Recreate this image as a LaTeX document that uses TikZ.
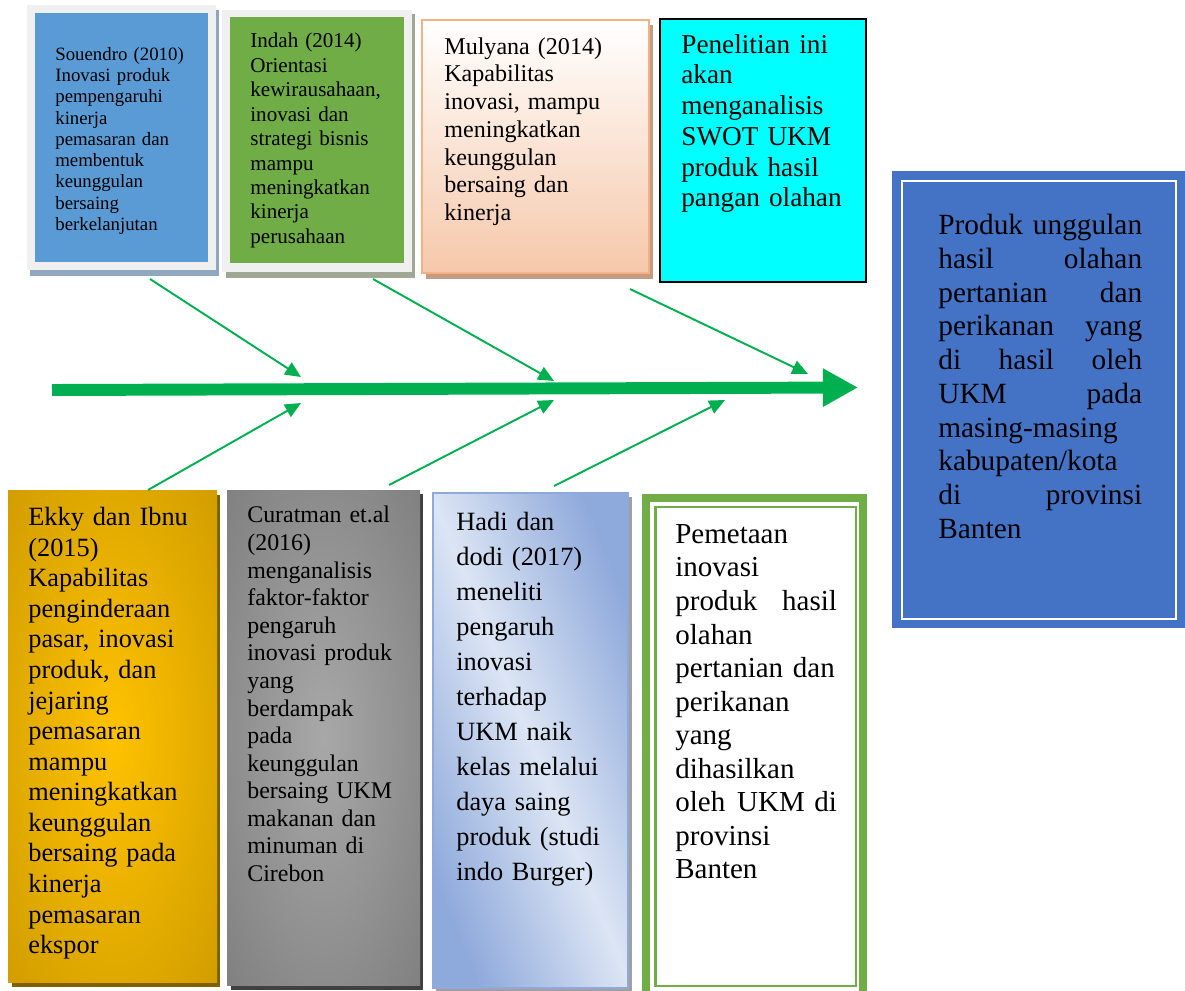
\documentclass[tikz,border=0pt]{standalone}
\usepackage{fontspec}
\setmainfont{Liberation Serif}
\usetikzlibrary{arrows.meta,positioning}
\definecolor{fishGreen}{RGB}{0,176,80}
\definecolor{frameGray}{RGB}{240,240,240}
\definecolor{souBlue}{RGB}{91,155,213}
\definecolor{souShadow}{RGB}{143,168,192}
\definecolor{indahGreen}{RGB}{112,173,71}
\definecolor{indahShadow}{RGB}{160,168,148}
\definecolor{mulPeach}{RGB}{246,200,170}
\definecolor{mulLine}{RGB}{244,177,131}
\definecolor{mulShadow}{RGB}{195,156,130}
\definecolor{swotCyan}{RGB}{0,255,255}
\definecolor{ukmBlue}{RGB}{68,114,196}
\definecolor{goldLight}{RGB}{255,194,0}
\definecolor{goldDark}{RGB}{191,143,0}
\definecolor{goldShadow}{RGB}{127,96,0}
\definecolor{grayLight}{RGB}{168,168,168}
\definecolor{grayDark}{RGB}{112,112,112}
\definecolor{grayShadow}{RGB}{64,64,64}
\definecolor{hadiBlue}{RGB}{142,169,219}
\definecolor{hadiLight}{RGB}{220,229,244}
\definecolor{hadiShadow}{RGB}{160,160,160}
\pgfdeclareradialshading{goldglow}{\pgfpoint{0bp}{0bp}}{color(0bp)=(goldLight); color(50bp)=(goldDark); color(75bp)=(goldDark)}
\pgfdeclareradialshading{grayglow}{\pgfpoint{0bp}{0bp}}{color(0bp)=(grayLight); color(50bp)=(grayDark); color(75bp)=(grayDark)}
\newcommand{\fsz}[2]{\fontsize{#1}{#2}\selectfont}

\begin{document}
\begin{tikzpicture}[x=0.02cm,y=-0.02cm,
    txt/.style={inner sep=0pt,anchor=north west,align=left},
    bone/.style={draw=fishGreen,line width=1.1pt,-{Triangle[length=9pt,width=8pt]}},
    spine/.style={draw=fishGreen,line width=6.8pt,-{Triangle[length=20pt,width=20.5pt]}}]
  \useasboundingbox (0,0) rectangle (1185,990);
  % top row
  \fill[souShadow] (30,10) rectangle (219,276);
  \fill[frameGray] (27,5) rectangle (216,270);
  \fill[souBlue] (35,13) rectangle (208,262);
  \node[txt,text width=90pt,font={\fsz{10.7}{12.1}}] (souendro) at (55,47)
    {Souendro (2010)\\Inovasi produk\\pempengaruhi\\kinerja\\pemasaran dan\\membentuk\\keunggulan\\bersaing\\berkelanjutan};
  \fill[indahShadow] (226,14) rectangle (415,278);
  \fill[frameGray] (222,10) rectangle (412,272);
  \fill[indahGreen] (230,17) rectangle (404,263);
  \node[txt,text width=100pt,font={\fsz{12}{13.9}}] (indah) at (250,33)
    {Indah (2014)\\Orientasi\\kewirausahaan,\\inovasi dan\\strategi bisnis\\mampu\\meningkatkan\\kinerja\\perusahaan};
  \fill[mulShadow] (426,25) rectangle (653,279);
  \shadedraw[top color=white,bottom color=mulPeach,draw=mulLine,line width=1.2pt] (422,20) rectangle (649,273);
  \node[txt,text width=110pt,font={\fsz{13.7}{15.8}}] (mulyana) at (444,37)
    {Mulyana (2014)\\Kapabilitas\\inovasi, mampu\\meningkatkan\\keunggulan\\bersaing dan\\kinerja};
  \filldraw[fill=swotCyan,draw=black,line width=1.2pt] (660,19) rectangle (866,282);
  \node[txt,text width=110pt,font={\fsz{15.5}{17.5}}] (penelitian) at (681,34)
    {Penelitian ini\\akan\\menganalisis\\SWOT UKM\\produk hasil\\pangan olahan};
  % result box
  \fill[ukmBlue] (892,171) rectangle (1185,628);
  \draw[white,line width=1.3pt] (902,181) rectangle (1176,619);
  \node[txt,text width=116pt,font={\fsz{16.7}{19.2}}] (produk) at (938,214)
    {Produk\hfill unggulan\\hasil\hfill olahan\\pertanian\hfill dan\\perikanan\hfill yang\\di\hfill hasil\hfill oleh\\UKM\hfill pada\\masing-masing\\kabupaten/kota\\di\hfill provinsi\\Banten};
  % bottom row
  \fill[goldShadow] (12,495) rectangle (220,987);
  \shade[shading=goldglow] (8,490) rectangle (217,982);
  \node[txt,text width=105pt,font={\fsz{15}{17.4}}] (ekky) at (28,507)
    {Ekky dan Ibnu\\(2015)\\Kapabilitas\\penginderaan\\pasar, inovasi\\produk, dan\\jejaring\\pemasaran\\mampu\\meningkatkan\\keunggulan\\bersaing pada\\kinerja\\pemasaran\\ekspor};
  \fill[grayShadow] (231,494) rectangle (423,990);
  \shade[shading=grayglow] (227,490) rectangle (420,985);
  \node[txt,text width=100pt,font={\fsz{13.6}{15.7}}] (curatman) at (247,506)
    {Curatman et.al\\(2016)\\menganalisis\\faktor-faktor\\pengaruh\\inovasi produk\\yang\\berdampak\\pada\\keunggulan\\bersaing UKM\\makanan dan\\minuman di\\Cirebon};
  \fill[hadiShadow] (436,497) rectangle (632,992);
  \shadedraw[top color=hadiBlue,bottom color=hadiBlue,middle color=hadiLight,shading angle=-68,
    draw=hadiBlue,line width=1.2pt] (433,493) rectangle (628,988);
  \node[txt,text width=100pt,font={\fsz{15}{19.9}}] (hadi) at (456,512)
    {Hadi dan\\dodi (2017)\\meneliti\\pengaruh\\inovasi\\terhadap\\UKM naik\\kelas melalui\\daya saing\\produk (studi\\indo Burger)};
  \draw[indahGreen,line width=4.6pt] (646,498) rectangle (863,1004);
  \draw[indahGreen,line width=1.2pt] (655.5,507) rectangle (856,986);
  \node[txt,text width=92pt,font={\fsz{16.5}{19.1}}] (pemetaan) at (675,524)
    {Pemetaan\\inovasi\\produk\hfill hasil\\olahan\\pertanian dan\\perikanan\\yang\\dihasilkan\\oleh\hfill UKM di\\provinsi\\Banten};
  % fishbone
  \coordinate (spineL) at (52,390);
  \coordinate (spineR) at (858,387.5);
  \draw[spine] (spineL) -- (spineR);
  \coordinate (t1) at (150,279);  \coordinate (h1) at (301,377);
  \coordinate (t2) at (373,279);  \coordinate (h2) at (554,381);
  \coordinate (t3) at (630,289);  \coordinate (h3) at (808,374);
  \coordinate (b1) at (148,490);  \coordinate (k1) at (301,403);
  \coordinate (b2) at (389,485);  \coordinate (k2) at (554,400);
  \coordinate (b3) at (554,486);  \coordinate (k3) at (725,400);
  \foreach \s/\e in {t1/h1,t2/h2,t3/h3,b1/k1,b2/k2,b3/k3}
    \draw[bone] (\s) -- (\e);
\end{tikzpicture}
\end{document}
